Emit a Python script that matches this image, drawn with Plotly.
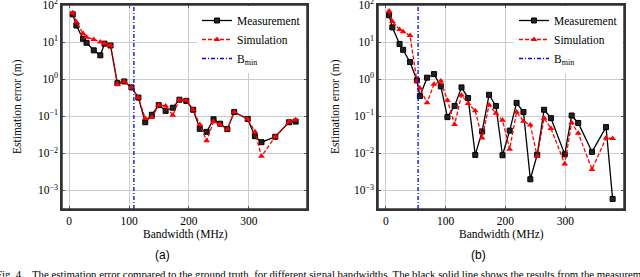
import plotly.graph_objects as go

# ---- data ----
bw_a = [6, 12, 23, 29, 41, 52, 59, 69, 80.5, 92, 104, 115.5, 127, 138, 149.5, 161, 173, 184,
        195.5, 207, 218, 229.5, 241, 252, 264, 275.5, 298, 310, 321, 344, 367, 378]
meas_a = [56, 28, 12.3, 9.6, 6, 4.4, 9.1, 8.1, 0.78, 0.87, 0.6, 0.32, 0.069, 0.11, 0.2, 0.14,
          0.17, 0.28, 0.26, 0.15, 0.046, 0.038, 0.083, 0.063, 0.045, 0.13, 0.085, 0.029, 0.02,
          0.028, 0.069, 0.072]
sim_a = [62, 35, 17, 13.5, 11.8, 10, 9.1, 8.1, 0.72, 0.87, 0.6, 0.32, 0.087, 0.092, 0.2, 0.19,
         0.107, 0.28, 0.27, 0.15, 0.06, 0.022, 0.071, 0.06, 0.045, 0.13, 0.085, 0.038, 0.0083,
         0.028, 0.072, 0.081]
bmin_a = 108

bw_b = [5.5, 11, 23, 29, 40.5, 52, 57, 69, 80.5, 92, 103, 115, 126.5, 137.5, 149.5, 161, 172.5,
        184, 195, 207, 218.5, 230, 241.5, 253, 264.5, 276, 299, 310.5, 321.5, 344.5, 368, 379]
meas_b = [53, 25, 8.9, 6.2, 2.9, 0.93, 0.35, 1.1, 1.37, 0.64, 0.095, 0.19, 0.6, 0.31, 0.0091,
          0.039, 0.38, 0.19, 0.0089, 0.041, 0.23, 0.13, 0.002, 0.0092, 0.15, 0.089, 0.0094,
          0.105, 0.066, 0.011, 0.051, 0.00059]
sim_b = [69, 36, 22, 19, 15, 0.9, 0.57, 0.23, 0.73, 0.89, 0.27, 0.06, 0.37, 0.22, 0.14, 0.026,
         0.2, 0.12, 0.078, 0.013, 0.13, 0.074, 0.058, 0.0083, 0.089, 0.047, 0.0052, 0.067,
         0.035, 0.0037, 0.026, 0.025]
bmin_b = 54

x_ticks = [0, 100, 200, 300]
y_tickvals = [1e-3, 1e-2, 1e-1, 1e0, 1e1, 1e2]
y_ticktext = ["10<sup>\u22123</sup>", "10<sup>\u22122</sup>", "10<sup>\u22121</sup>",
              "10<sup>0</sup>", "10<sup>1</sup>", "10<sup>2</sup>"]
y_limits = [10 ** -3.5, 1e2]

W, H = 640, 277
SERIF = "Liberation Serif"
SANS = "Liberation Sans"
FS = 11.5


def px_x(p):
    return p / W


def px_y(p):
    return 1 - p / H


fig = go.Figure()

panels = [
    ("x", "y", "legend", bw_a, meas_a, sim_a, bmin_a),
    ("x2", "y2", "legend2", bw_b, meas_b, sim_b, bmin_b),
]
for xa, ya, lg, bw, meas, sim, bmin in panels:
    fig.add_trace(go.Scatter(
        x=bw, y=meas, xaxis=xa, yaxis=ya, legend=lg, name="Measurement",
        mode="lines+markers", line=dict(color="black", width=1.3),
        marker=dict(symbol="square", size=5, color="#222", line=dict(color="black", width=1))))
    fig.add_trace(go.Scatter(
        x=bw, y=sim, xaxis=xa, yaxis=ya, legend=lg, name="Simulation",
        mode="lines+markers", line=dict(color="red", width=1.3, dash="4px,2px"),
        marker=dict(symbol="triangle-up", size=6, color="red")))
    fig.add_trace(go.Scatter(
        x=[bmin, bmin], y=y_limits, xaxis=xa, yaxis=ya, legend=lg, name="B<sub>min</sub>",
        mode="lines", line=dict(color="blue", width=1.3, dash="4px,2px,1px,2px")))

axis_common = dict(
    automargin=False,
    showline=True, linecolor="#333", linewidth=1.5, mirror="ticks",
    ticks="inside", ticklen=3, tickcolor="#555",
    showgrid=True, gridcolor="#cccccc", gridwidth=1, zeroline=False,
    ticklabeloverflow="allow",
    tickfont=dict(family=SERIF, size=FS, color="black"),
)

y_dom = [px_y(209), px_y(5)]
fig.update_layout(
    width=W, height=H, margin=dict(l=0, r=0, t=0, b=0, autoexpand=False),
    paper_bgcolor="white", plot_bgcolor="white",
    showlegend=True,
    xaxis=dict(domain=[px_x(62), px_x(307)], range=[-12, 397], tickvals=x_ticks,
               anchor="y", **axis_common),
    yaxis=dict(domain=y_dom, type="log", range=[-3.5, 2.0005], tickvals=y_tickvals,
               ticktext=y_ticktext, anchor="x", **axis_common),
    xaxis2=dict(domain=[px_x(378), px_x(624)], range=[-13, 398], tickvals=x_ticks,
                anchor="y2", **axis_common),
    yaxis2=dict(domain=y_dom, type="log", range=[-3.5, 2.0005], tickvals=y_tickvals,
                ticktext=y_ticktext, anchor="x2", **axis_common),
    legend=dict(x=px_x(306), y=px_y(6), xanchor="right", yanchor="top",
                bgcolor="white", borderwidth=0, itemwidth=30, tracegroupgap=0,
                font=dict(family=SERIF, size=FS, color="black")),
    legend2=dict(x=px_x(623), y=px_y(6), xanchor="right", yanchor="top",
                 bgcolor="white", borderwidth=0, itemwidth=30, tracegroupgap=0,
                 font=dict(family=SERIF, size=FS, color="black")),
    shapes=[
        dict(type="rect", xref="x domain", yref="y domain", x0=0, x1=1, y0=0, y1=1,
             line=dict(color="#333", width=1.5), layer="above"),
        dict(type="rect", xref="x2 domain", yref="y2 domain", x0=0, x1=1, y0=0, y1=1,
             line=dict(color="#333", width=1.5), layer="above"),
    ],
)

ann = []
for cx in (18, 336):
    ann.append(dict(x=px_x(cx), y=px_y(107), xref="paper", yref="paper",
                    xanchor="center", yanchor="middle",
                    text="Estimation error (m)", textangle=-90, showarrow=False,
                    font=dict(family=SERIF, size=FS, color="black")))
for cx in (185, 501):
    ann.append(dict(x=px_x(cx), y=px_y(234), xref="paper", yref="paper",
                    xanchor="center", yanchor="middle",
                    text="Bandwidth (MHz)", showarrow=False,
                    font=dict(family=SERIF, size=FS, color="black")))
ann.append(dict(x=px_x(162), y=px_y(255), xref="paper", yref="paper", text="(a)",
                xanchor="center", yanchor="middle",
                showarrow=False, font=dict(family=SANS, size=12, color="black")))
ann.append(dict(x=px_x(478), y=px_y(255), xref="paper", yref="paper", text="(b)",
                xanchor="center", yanchor="middle",
                showarrow=False, font=dict(family=SANS, size=12, color="black")))
ann.append(dict(x=px_x(-6), y=px_y(274), xref="paper", yref="paper", xanchor="left",
                yanchor="middle",
                text="Fig. 4.&nbsp;&nbsp;&nbsp;The estimation error compared to the ground truth, for different "
                     "signal bandwidths. The black solid line shows the results from the measurement",
                showarrow=False, font=dict(family=SERIF, size=10.8, color="black")))
fig.update_layout(annotations=ann)

fig.write_html("out.html", config={"displayModeBar": False},
               post_script="document.body.style.margin='0px';document.body.style.overflow='hidden';")
